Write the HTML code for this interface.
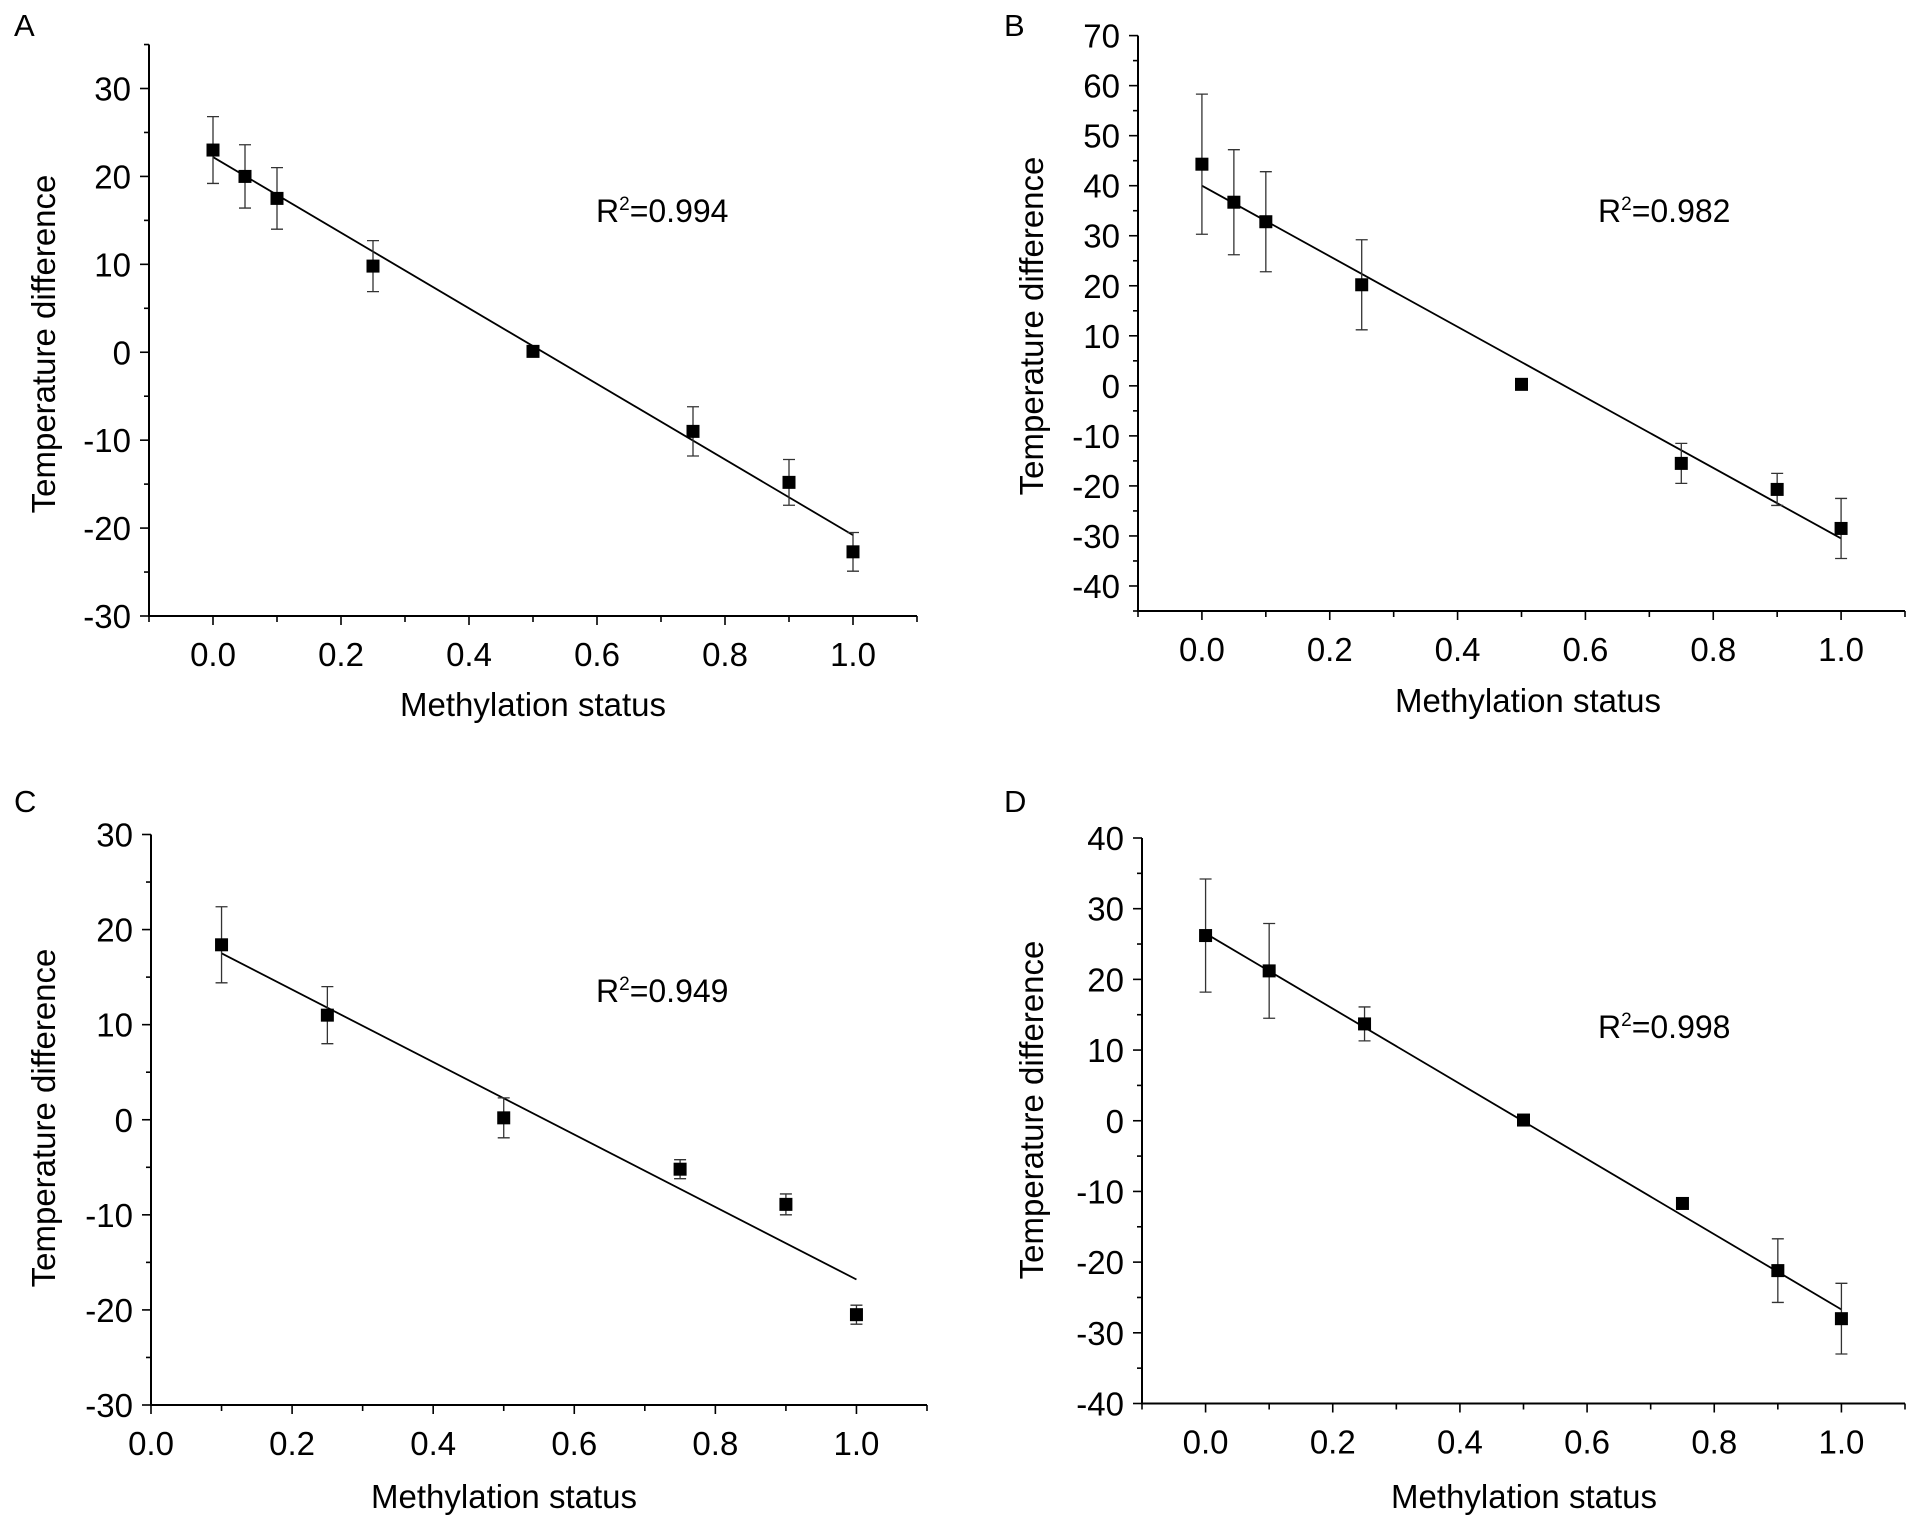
<!DOCTYPE html>
<html><head><meta charset="utf-8"><style>
html,body{margin:0;padding:0;background:#fff;}
svg{display:block;font-family:"Liberation Sans",sans-serif;}
</style></head><body>
<svg id="fig" width="1927" height="1527" viewBox="0 0 1927 1527"></svg>
<script>
// Panel A
const xA=[0,0.05,0.1,0.25,0.5,0.75,0.9,1.0];
const yA=[23,20,17.5,9.8,0.1,-9,-14.8,-22.7];
const eA=[3.8,3.6,3.5,2.9,0,2.8,2.6,2.2];
const fitA=[[0,22.2],[1,-20.8]];
// Panel B
const xB=[0,0.05,0.1,0.25,0.5,0.75,0.9,1.0];
const yB=[44.3,36.7,32.8,20.2,0.3,-15.5,-20.7,-28.5];
const eB=[14,10.5,10,9,0,4,3.2,6];
const fitB=[[0,40],[1,-30.5]];
// Panel C
const xC=[0.1,0.25,0.5,0.75,0.9,1.0];
const yC=[18.4,11,0.2,-5.2,-8.9,-20.5];
const eC=[4,3,2.1,1,1.1,1];
const fitC=[[0.1,17.5],[1,-16.8]];
// Panel D
const xD=[0,0.1,0.25,0.5,0.75,0.9,1.0];
const yD=[26.2,21.2,13.7,0.1,-11.7,-21.2,-28];
const eD=[8,6.7,2.4,0,0,4.5,5];
const fitD=[[0,26.5],[1,-26.7]];
// tick labels
const xTicksAll=["0.0","0.2","0.4","0.6","0.8","1.0"];
const yTicksA=["30","20","10","0","-10","-20","-30"];
const yTicksB=["70","60","50","40","30","20","10","0","-10","-20","-30","-40"];
const yTicksC=["30","20","10","0","-10","-20","-30"];
const yTicksD=["40","30","20","10","0","-10","-20","-30","-40"];

const NS="http://www.w3.org/2000/svg";
const svg=document.getElementById('fig');
function mk(tag,attrs,parent){const e=document.createElementNS(NS,tag);for(const k in attrs)e.setAttribute(k,attrs[k]);(parent||svg).appendChild(e);return e;}

function panel(p){
  const g=mk('g',{});
  
  
  const X=v=>p.px0+(v-p.xmin)/(p.xmax-p.xmin)*(p.px1-p.px0);
  const Y=v=>p.py0-(v-p.ymin)/(p.ymax-p.ymin)*(p.py0-p.py1);
  const lbl=mk('text',{x:p.lx,y:p.ly,'font-size':31},g);lbl.textContent=p.id;
  
  
  const ax=mk('path',{d:`M${p.px0},${Y(p.ytop)} L${p.px0},${p.py0} L${p.px1},${p.py0}`,stroke:'#000','stroke-width':2,fill:'none'},g);
  
  
  for(let v=p.ymin;v<=p.ytop+1e-9;v+=p.ystep/2){
    const major=Math.abs(Math.round(v/p.ystep)*p.ystep-v)<1e-9;
    mk('line',{x1:p.px0-(major?9:5),x2:p.px0,y1:Y(v),y2:Y(v),stroke:'#000','stroke-width':1.6},g);
  }
  p.yt.forEach(s=>{const v=parseFloat(s);const t=mk('text',{x:p.px0-18,y:Y(v)+12,'font-size':33,'text-anchor':'end'},g);t.textContent=s;
    
    });
  for(let i=Math.round(p.xmin*10);i<=Math.round(p.xmax*10);i++){
    const v=i/10;const major=i%2===0;
    mk('line',{x1:X(v),x2:X(v),y1:p.py0,y2:p.py0+(major?9:6),stroke:'#000','stroke-width':1.6},g);
  }
  xTicksAll.forEach(s=>{const v=parseFloat(s);const t=mk('text',{x:X(v),y:p.py0+50,'font-size':33,'text-anchor':'middle'},g);t.textContent=s;
    
    });
  const xt=mk('text',{x:p.xtx,y:p.xty,'font-size':33,'text-anchor':'middle'},g);xt.textContent='Methylation status';
  
  
  const yt=mk('text',{x:0,y:0,'font-size':33,'text-anchor':'middle',transform:`translate(${p.ytx},${p.yty}) rotate(-90)`},g);yt.textContent='Temperature difference';
  
  
  const fl=mk('line',{x1:X(p.fit[0][0]),y1:Y(p.fit[0][1]),x2:X(p.fit[1][0]),y2:Y(p.fit[1][1]),stroke:'#000','stroke-width':1.8},g);
  
  
  p.xs.forEach((xv,i)=>{
    const cx=X(xv),cy=Y(p.ys[i]),e=p.es[i];
    if(e>0){
      const eb=mk('path',{d:`M${cx},${Y(p.ys[i]+e)} L${cx},${Y(p.ys[i]-e)} M${cx-6},${Y(p.ys[i]+e)} L${cx+6},${Y(p.ys[i]+e)} M${cx-6},${Y(p.ys[i]-e)} L${cx+6},${Y(p.ys[i]-e)}`,stroke:'#333','stroke-width':1.3,fill:'none'},g);
      
      
    }
    const r=mk('rect',{x:cx-6.5,y:cy-6.5,width:13,height:13,fill:'#000'},g);
    
    
  });
  const rt=mk('text',{x:p.rx,y:p.ry,'font-size':32},g);
  rt.innerHTML='R<tspan dy="-12" font-size="19">2</tspan><tspan dy="12">='+p.r2+'</tspan>';
  
  
}

panel({id:'A',lx:14,ly:36,px0:149,px1:917,py0:616,xmin:-0.1,xmax:1.1,ymin:-30,ymax:30,py1:88.5,ytop:35,ystep:10,yt:yTicksA,
  xs:xA,ys:yA,es:eA,fit:fitA,r2:'0.994',rx:596,ry:222,xtx:533,xty:716,ytx:55,yty:344});
panel({id:'B',lx:1004,ly:36,px0:1138,px1:1905,py0:611,xmin:-0.1,xmax:1.1,ymin:-45,ymax:70,py1:35.6,ytop:70,ystep:10,yt:yTicksB,
  xs:xB,ys:yB,es:eB,fit:fitB,r2:'0.982',rx:1598,ry:222,xtx:1528,xty:712,ytx:1043,yty:326});
panel({id:'C',lx:14,ly:812,px0:151,px1:927,py0:1405,xmin:0,xmax:1.1,ymin:-30,ymax:30,py1:834.5,ytop:30,ystep:10,yt:yTicksC,
  xs:xC,ys:yC,es:eC,fit:fitC,r2:'0.949',rx:596,ry:1002,xtx:504,xty:1508,ytx:55,yty:1118});
panel({id:'D',lx:1004,ly:812,px0:1142,px1:1905,py0:1403.5,xmin:-0.1,xmax:1.1,ymin:-40,ymax:40,py1:838,ytop:40,ystep:10,yt:yTicksD,
  xs:xD,ys:yD,es:eD,fit:fitD,r2:'0.998',rx:1598,ry:1038,xtx:1524,xty:1508,ytx:1043,yty:1110});
</script>
</body></html>
